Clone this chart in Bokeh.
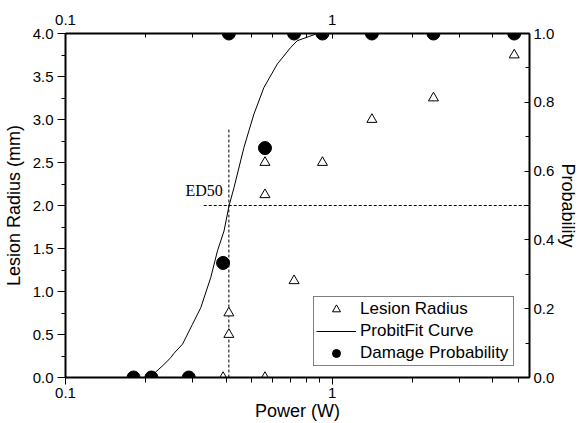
from bokeh.plotting import figure
from bokeh.models import (Range1d, LinearAxis, LogAxis, FixedTicker, Label,
                          Legend, LegendItem)
from bokeh.embed import file_html
from bokeh.resources import INLINE

# ---------------- data ----------------
radius_power = [0.39, 0.41, 0.41, 0.56, 0.56, 0.56, 0.72, 0.92, 1.41, 2.40, 4.82]
lesion_radius = [0.0, 0.5, 0.75, 0.0, 2.125, 2.5, 1.125, 2.5, 3.0, 3.25, 3.75]

prob_power = [0.18, 0.21, 0.29, 0.39, 0.41, 0.56, 0.72, 0.92, 1.41, 2.40, 4.82]
damage_prob = [0.0, 0.0, 0.0, 0.333, 1.0, 0.667, 1.0, 1.0, 1.0, 1.0, 1.0]

fit_power = [0.212, 0.2151, 0.232, 0.2485, 0.255, 0.2748, 0.2995, 0.3217, 0.3507,
             0.3715, 0.3932, 0.4105, 0.4285, 0.4671, 0.5091, 0.5549, 0.6227,
             0.6984, 0.7398, 0.8662, 0.93]
fit_prob = [0.0, 0.012, 0.035, 0.058, 0.07, 0.097, 0.155, 0.203, 0.291, 0.368,
            0.426, 0.499, 0.552, 0.669, 0.766, 0.843, 0.911, 0.959, 0.979,
            0.998, 1.0]

ed50_power = 0.41
ed50_prob = 0.5
guide_v_top = 0.725      # top of the vertical ED50 guide (probability units)
guide_h_start = 0.33     # start of the horizontal ED50 guide (W)

x_major = [0.1, 1]
x_minor = [0.2, 0.3, 0.4, 0.5, 0.6, 0.7, 0.8, 0.9, 2, 3, 4, 5]
radius_ticks = [0.0, 0.5, 1.0, 1.5, 2.0, 2.5, 3.0, 3.5, 4.0]
radius_minor = [0.25, 0.75, 1.25, 1.75, 2.25, 2.75, 3.25, 3.75]
prob_ticks = [0.0, 0.2, 0.4, 0.6, 0.8, 1.0]
prob_minor = [0.1, 0.3, 0.5, 0.7, 0.9]

X_RANGE = (0.1, 5.5)
Y_RANGE = (0.0, 4.0)
P_RANGE = (0.0, 1.0)

FONT = "Liberation Sans"

p = figure(width=583, height=423, x_axis_type="log",
           x_range=Range1d(*X_RANGE), y_range=Range1d(*Y_RANGE),
           output_backend="svg", toolbar_location=None,
           min_border_left=65, min_border_right=54,
           min_border_top=33, min_border_bottom=46)
p.extra_y_ranges = {"prob": Range1d(*P_RANGE)}
p.grid.visible = False
p.background_fill_color = "white"
p.border_fill_color = "white"
p.outline_line_color = "black"
p.outline_line_width = 1


def style_axis(ax, tick_in, tick_out, minor_in, minor_out, standoff):
    ax.axis_line_width = 2
    ax.axis_line_color = "black"
    ax.major_tick_line_color = "black"
    ax.minor_tick_line_color = "black"
    ax.major_tick_in = tick_in
    ax.major_tick_out = tick_out
    ax.minor_tick_in = minor_in
    ax.minor_tick_out = minor_out
    ax.major_label_standoff = standoff
    ax.major_label_text_font = FONT
    ax.major_label_text_font_size = "15px"
    ax.major_label_text_color = "black"
    ax.axis_label_text_font = FONT
    ax.axis_label_text_font_size = "18px"
    ax.axis_label_text_font_style = "normal"
    ax.axis_label_text_color = "black"


xticker = FixedTicker(ticks=x_major, minor_ticks=x_minor)
xlabels = {v: (str(v) if v < 1 else str(int(v))) for v in x_major}

# bottom
bx = p.xaxis[0]
bx.ticker = xticker
bx.major_label_overrides = xlabels
bx.axis_label = "Power (W)"
style_axis(bx, 0, 7, 0, 5, 3)
bx.axis_label_standoff = 0

# left
ly = p.yaxis[0]
ly.ticker = FixedTicker(ticks=radius_ticks, minor_ticks=radius_minor)
ly.major_label_overrides = {v: f"{v:.1f}" for v in radius_ticks}
ly.axis_label = "Lesion Radius (mm)"
style_axis(ly, 0, 8, 0, 4, 4)
ly.axis_label_standoff = 6

# top
tx = LogAxis(ticker=xticker, major_label_overrides=xlabels)
style_axis(tx, 5, 0, 4, 0, 9)
p.add_layout(tx, "above")

# right
ry = LinearAxis(y_range_name="prob",
                ticker=FixedTicker(ticks=prob_ticks, minor_ticks=prob_minor),
                major_label_overrides={v: f"{v:.1f}" for v in prob_ticks},
                axis_label="Probability")
style_axis(ry, 5, 0, 4, 0, 4)
ry.axis_label_standoff = 1
p.add_layout(ry, "right")

# ED50 guides
p.line([ed50_power, ed50_power], [0, guide_v_top], y_range_name="prob",
       line_color="black", line_width=1, line_dash="3 2")
p.line([guide_h_start, X_RANGE[1]], [ed50_prob, ed50_prob], y_range_name="prob",
       line_color="black", line_width=1, line_dash="3 2")

# glyphs
r_fit = p.line(fit_power, fit_prob, y_range_name="prob",
               line_color="black", line_width=1)
r_rad = p.scatter(radius_power, lesion_radius, marker="triangle", size=10,
                  fill_color="white", line_color="black", line_width=1)
r_prob = p.scatter(prob_power, damage_prob, y_range_name="prob", marker="circle",
                   size=13, fill_color="black", line_color="black")

p.add_layout(Label(x=ed50_power, y=ed50_prob, y_range_name="prob",
                   x_offset=-6, y_offset=15, text="ED50",
                   text_font="Liberation Serif", text_font_size="16px",
                   text_align="right", text_baseline="alphabetic",
                   text_color="black"))

legend = Legend(items=[LegendItem(label="Lesion Radius", renderers=[r_rad]),
                       LegendItem(label="ProbitFit Curve", renderers=[r_fit]),
                       LegendItem(label="Damage Probability", renderers=[r_prob])],
                location=(248, 11), margin=0, padding=2, spacing=2,
                glyph_width=40, glyph_height=20, label_height=20,
                label_width=151, label_standoff=4,
                label_text_font=FONT, label_text_font_size="17px",
                label_text_color="black",
                border_line_color="black", border_line_width=1,
                background_fill_color="white", background_fill_alpha=1.0)
p.add_layout(legend, "center")

open("out.html", "w").write(file_html(p, INLINE))
